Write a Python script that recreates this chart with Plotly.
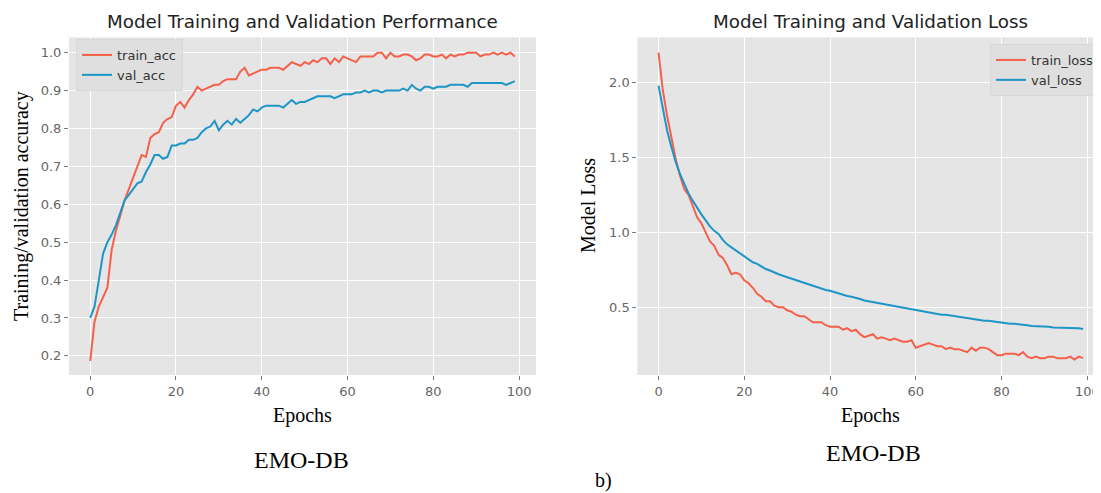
import plotly.graph_objects as go

epochs = list(range(100))

train_acc = [0.187, 0.29, 0.33, 0.355, 0.38, 0.48, 0.53, 0.57, 0.61, 0.64,
             0.67, 0.70, 0.73, 0.725, 0.775, 0.785, 0.79, 0.815, 0.825, 0.83,
             0.86, 0.87, 0.855, 0.875, 0.89, 0.91, 0.90, 0.905, 0.91, 0.915,
             0.915, 0.925, 0.93, 0.93, 0.93, 0.95, 0.96, 0.94, 0.945, 0.95,
             0.955, 0.955, 0.96, 0.96, 0.96, 0.955, 0.965, 0.975, 0.97, 0.965,
             0.975, 0.97, 0.98, 0.975, 0.985, 0.985, 0.97, 0.985, 0.975, 0.99,
             0.985, 0.98, 0.975, 0.99, 0.99, 0.99, 0.99, 1.0, 1.0, 0.985,
             1.0, 0.99, 0.99, 0.995, 0.995, 0.99, 0.98, 0.985, 0.995, 0.995,
             0.99, 0.99, 0.995, 0.985, 0.995, 0.99, 0.995, 0.995, 1.0, 1.0,
             1.0, 0.99, 0.995, 0.995, 1.0, 0.995, 1.0, 0.995, 1.0, 0.99]

val_acc = [0.30, 0.33, 0.40, 0.47, 0.50, 0.52, 0.545, 0.575, 0.61, 0.625,
           0.64, 0.655, 0.66, 0.685, 0.705, 0.73, 0.73, 0.72, 0.725, 0.755,
           0.755, 0.76, 0.76, 0.77, 0.77, 0.775, 0.79, 0.80, 0.805, 0.82,
           0.795, 0.81, 0.82, 0.81, 0.825, 0.815, 0.825, 0.835, 0.85, 0.845,
           0.855, 0.86, 0.86, 0.86, 0.86, 0.855, 0.865, 0.875, 0.865, 0.87,
           0.87, 0.875, 0.88, 0.885, 0.885, 0.885, 0.885, 0.88, 0.885, 0.89,
           0.89, 0.89, 0.895, 0.895, 0.90, 0.895, 0.90, 0.90, 0.895, 0.90,
           0.90, 0.90, 0.90, 0.905, 0.90, 0.915, 0.905, 0.90, 0.91, 0.91,
           0.905, 0.91, 0.91, 0.91, 0.915, 0.915, 0.915, 0.915, 0.91, 0.92,
           0.92, 0.92, 0.92, 0.92, 0.92, 0.92, 0.92, 0.915, 0.92, 0.925]

train_loss = [2.2, 1.95, 1.78, 1.63, 1.49, 1.38, 1.29, 1.25, 1.17, 1.10,
              1.06, 1.00, 0.94, 0.91, 0.85, 0.83, 0.78, 0.72, 0.73, 0.72,
              0.68, 0.66, 0.63, 0.59, 0.57, 0.54, 0.54, 0.51, 0.50, 0.50,
              0.48, 0.47, 0.45, 0.44, 0.44, 0.42, 0.40, 0.40, 0.40, 0.38,
              0.37, 0.37, 0.37, 0.35, 0.36, 0.34, 0.35, 0.32, 0.30, 0.31,
              0.32, 0.29, 0.30, 0.29, 0.28, 0.29, 0.28, 0.27, 0.27, 0.28,
              0.23, 0.24, 0.25, 0.26, 0.25, 0.24, 0.24, 0.22, 0.23, 0.22,
              0.22, 0.21, 0.20, 0.23, 0.21, 0.23, 0.23, 0.22, 0.20, 0.18,
              0.18, 0.19, 0.19, 0.19, 0.18, 0.20, 0.17, 0.16, 0.17, 0.16,
              0.16, 0.17, 0.17, 0.16, 0.16, 0.16, 0.17, 0.15, 0.17, 0.16]

val_loss = [1.98, 1.84, 1.68, 1.57, 1.47, 1.39, 1.32, 1.26, 1.21, 1.16,
            1.12, 1.08, 1.04, 1.01, 0.99, 0.95, 0.92, 0.90, 0.88, 0.86,
            0.84, 0.82, 0.80, 0.79, 0.77, 0.755, 0.745, 0.73, 0.72, 0.71,
            0.70, 0.695, 0.685, 0.675, 0.665, 0.655, 0.645, 0.635, 0.625, 0.615,
            0.61, 0.60, 0.59, 0.585, 0.575, 0.57, 0.565, 0.555, 0.545, 0.54,
            0.535, 0.53, 0.52, 0.515, 0.51, 0.505, 0.50, 0.495, 0.49, 0.485,
            0.48, 0.475, 0.47, 0.465, 0.46, 0.455, 0.45, 0.45, 0.445, 0.44,
            0.435, 0.43, 0.425, 0.42, 0.42, 0.415, 0.41, 0.41, 0.405, 0.40,
            0.40, 0.395, 0.39, 0.39, 0.385, 0.38, 0.38, 0.375, 0.375, 0.37,
            0.37, 0.37, 0.365, 0.365, 0.365, 0.36, 0.36, 0.36, 0.36, 0.355]

x_ticks = [0, 20, 40, 60, 80, 100]
acc_ticks = [0.2, 0.3, 0.4, 0.5, 0.6, 0.7, 0.8, 0.9, 1.0]
loss_ticks = [0.5, 1.0, 1.5, 2.0]

# The page body has an 8px margin, so the figure is drawn 8px in from the top-left.
OFF = 8
W, H = 1101 - OFF, 493 - OFF
RED = "#F5604B"
BLUE = "#1D95C6"


def px(x):
    return (x - OFF) / W


def py(y):
    return 1 - (y - OFF) / H


fig = go.Figure()
fig.add_trace(go.Scatter(x=epochs, y=train_acc, name="train_acc", mode="lines",
                         line=dict(color=RED, width=2), xaxis="x", yaxis="y", legend="legend"))
fig.add_trace(go.Scatter(x=epochs, y=val_acc, name="val_acc", mode="lines",
                         line=dict(color=BLUE, width=2), xaxis="x", yaxis="y", legend="legend"))
fig.add_trace(go.Scatter(x=epochs, y=train_loss, name="train_loss", mode="lines",
                         line=dict(color=RED, width=2), xaxis="x2", yaxis="y2", legend="legend2"))
fig.add_trace(go.Scatter(x=epochs, y=val_loss, name="val_loss", mode="lines",
                         line=dict(color=BLUE, width=2), xaxis="x2", yaxis="y2", legend="legend2"))

tickfont = dict(family="DejaVu Sans", size=13, color="#666666")
axcommon = dict(showgrid=True, gridcolor="white", gridwidth=1.3, zeroline=False,
                ticks="outside", ticklen=4, tickcolor="#777777", tickwidth=1,
                tickfont=tickfont, showline=False)

y_dom = [py(375), py(37.3)]
fig.update_layout(
    width=W, height=H, autosize=False,
    margin=dict(l=0, r=0, t=0, b=0),
    paper_bgcolor="white", plot_bgcolor="#E5E5E5",
    xaxis=dict(domain=[px(69), px(536)], range=[-4.95, 103.95], tickvals=x_ticks,
               anchor="y", **axcommon),
    yaxis=dict(domain=y_dom, range=[0.1495, 1.0405], tickvals=acc_ticks,
               tickformat=".1f", anchor="x", **axcommon),
    xaxis2=dict(domain=[px(637.3), 1.0], range=[-4.95, 103.19], tickvals=x_ticks,
                anchor="y2", **axcommon),
    yaxis2=dict(domain=y_dom, range=[0.0475, 2.3025], tickvals=loss_ticks,
                tickformat=".1f", anchor="x2", **axcommon),
    legend=dict(x=px(76), y=py(39), xanchor="left", yanchor="top",
                bgcolor="rgba(222,222,222,0.9)", bordercolor="#D8D8D8", borderwidth=1,
                font=dict(family="DejaVu Sans", size=13, color="#333333"),
                tracegroupgap=0),
    legend2=dict(x=px(990), y=py(44), xanchor="left", yanchor="top",
                 bgcolor="rgba(222,222,222,0.9)", bordercolor="#D8D8D8", borderwidth=1,
                 font=dict(family="DejaVu Sans", size=13, color="#333333"),
                 tracegroupgap=0),
    showlegend=True,
)

serif = "Liberation Serif"
annotations = [
    dict(text="Model Training and Validation Performance", x=px(302.5), y=py(21),
         font=dict(family="DejaVu Sans", size=18.3, color="#222222")),
    dict(text="Model Training and Validation Loss", x=px(870.5), y=py(21),
         font=dict(family="DejaVu Sans", size=18.3, color="#222222")),
    dict(text="Training/validation accuracy", x=px(21), y=py(206), textangle=-90,
         font=dict(family=serif, size=20, color="black")),
    dict(text="Model Loss", x=px(588), y=py(206), textangle=-90,
         font=dict(family=serif, size=20, color="black")),
    dict(text="Epochs", x=px(302.5), y=py(415),
         font=dict(family=serif, size=20, color="black")),
    dict(text="Epochs", x=px(870.5), y=py(415),
         font=dict(family=serif, size=20, color="black")),
    dict(text="EMO-DB", x=px(301.5), y=py(460),
         font=dict(family=serif, size=24, color="black")),
    dict(text="EMO-DB", x=px(873), y=py(453),
         font=dict(family=serif, size=24, color="black")),
    dict(text="b)", x=px(603), y=py(480),
         font=dict(family=serif, size=20, color="black")),
]
for a in annotations:
    a.update(xref="paper", yref="paper", showarrow=False, xanchor="center", yanchor="middle")
fig.update_layout(annotations=annotations)

fig.write_html("out.html")
